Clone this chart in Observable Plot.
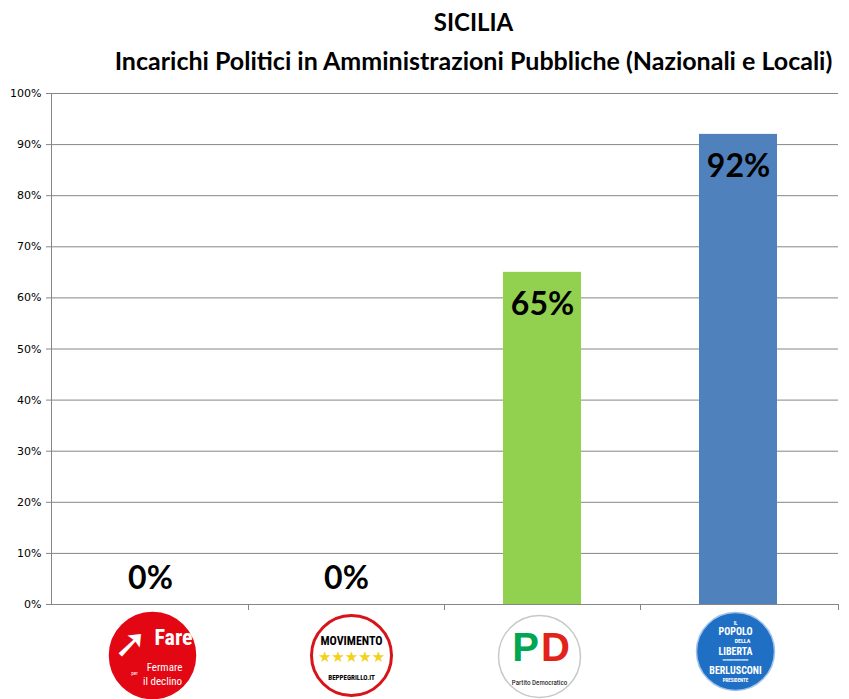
<!DOCTYPE html>
<html>
<head>
<meta charset="utf-8">
<script src="https://cdn.jsdelivr.net/npm/d3@7"></script>
<script src="https://cdn.jsdelivr.net/npm/@observablehq/plot@0.6"></script>
<style>
  html, body { margin: 0; padding: 0; background: #fff; }
  #wrap { width: 849px; }
  .title { font-family: Lato, "Open Sans", sans-serif; font-weight: bold; color: #000; text-align: center; padding-left: 98px; box-sizing: border-box; width: 849px; white-space: nowrap; }
  #t1 { font-size: 24px; height: 44px; line-height: 44px; }
  #t2 { font-size: 25px; height: 32px; line-height: 32px; }
</style>
</head>
<body>
<div id="wrap">
  <div class="title" id="t1">SICILIA</div>
  <div class="title" id="t2">Incarichi Politici in Amministrazioni Pubbliche (Nazionali e Locali)</div>
  <div id="chart"></div>
</div>
<script>
const parties = ["Fare per Fermare il declino", "MoVimento 5 Stelle", "Partito Democratico", "Il Popolo della Libertà"];
const values = [0, 0, 0.65, 0.92];
const barColors = ["#E30613", "#D7141A", "#92D050", "#4F81BD"];
const yTicks = [0, 0.1, 0.2, 0.3, 0.4, 0.5, 0.6, 0.7, 0.8, 0.9, 1.0];

const data = parties.map((p, i) => ({party: p, value: values[i], color: barColors[i]}));
const fmt = d3.format(".0%");

function frameLines(index, scales, values, dims) {
  const x = scales.x;
  const g = d3.create("svg:g").attr("stroke", "#868686").attr("stroke-width", 1);
  const left = dims.marginLeft, right = dims.width - dims.marginRight;
  const top = dims.marginTop, bottom = dims.height - dims.marginBottom;
  g.append("line").attr("x1", left + 0.5).attr("x2", left + 0.5).attr("y1", top).attr("y2", bottom + 0.5);
  g.append("line").attr("x1", left).attr("x2", right).attr("y1", bottom + 0.5).attr("y2", bottom + 0.5);
  const bw = x.bandwidth ? x.bandwidth() : 0;
  const centers = parties.map(p => x(p) + bw / 2);
  const bounds = [];
  for (let i = 1; i < centers.length; i++) bounds.push((centers[i - 1] + centers[i]) / 2);
  bounds.push(right);
  for (const b of bounds) {
    g.append("line").attr("x1", Math.round(b) + 0.5).attr("x2", Math.round(b) + 0.5).attr("y1", bottom).attr("y2", bottom + 6);
  }
  return g.node();
}

function logoText(i, text, dy, opts = {}) {
  return Plot.text([parties[i]], {
    x: d => d, frameAnchor: "bottom", dy, dx: opts.dx ?? 0,
    text: () => text,
    fill: opts.fill ?? "#000",
    fontSize: opts.size ?? 10,
    fontWeight: opts.weight ?? "bold",
    fontFamily: opts.family ?? "'Liberation Sans Narrow', 'Roboto Condensed', Roboto, sans-serif",
    lineAnchor: "middle",
    textAnchor: opts.anchor ?? "middle"
  });
}

const chart = Plot.plot({
  width: 849,
  height: 623,
  marginTop: 17,
  marginBottom: 95,
  marginLeft: 51,
  marginRight: 11,
  style: {fontFamily: "DejaVu Sans, sans-serif", fontSize: "11px", color: "#000", background: "#fff"},
  x: {domain: parties, paddingInner: 0.6, paddingOuter: 0.3, axis: null},
  y: {domain: [0, 1], axis: null},
  marks: [
    Plot.gridY(yTicks, {stroke: "#868686", strokeOpacity: 1}),
    Plot.axisY(yTicks, {tickFormat: fmt, tickSize: 5, tickPadding: 5, stroke: "#868686", fill: "#000", fontSize: 11, label: null}),
    Plot.barY(data, {x: "party", y: "value", fill: "color"}),
    Plot.text(data.filter(d => d.value > 0), {x: "party", y: "value", text: d => fmt(d.value), dy: 32, fontSize: 32, fontWeight: "bold", fontFamily: "Lato, sans-serif", fill: "#000", lineAnchor: "middle"}),
    Plot.text(data.filter(d => d.value === 0), {x: "party", y: "value", text: d => fmt(d.value), dy: -26, fontSize: 32, fontWeight: "bold", fontFamily: "Lato, sans-serif", fill: "#000", lineAnchor: "middle"}),
    frameLines,
    // Logos
    Plot.dot([parties[0]], {x: d => d, frameAnchor: "bottom", dy: 51, dx: 2, r: 43, fill: "#E30613", stroke: "#E30613"}),
    logoText(0, "➚", 40, {fill: "#fff", size: 40, dx: -20, family: "DejaVu Sans, sans-serif"}),
    logoText(0, "Fare", 33, {fill: "#fff", size: 22, dx: 23}),
    logoText(0, "per", 69, {fill: "#fff", size: 5, dx: -16, weight: "normal"}),
    logoText(0, "Fermare", 63, {fill: "#fff", size: 11, dx: 14, weight: "normal"}),
    logoText(0, "il declino", 77, {fill: "#fff", size: 11, dx: 12, weight: "normal"}),

    Plot.dot([parties[1]], {x: d => d, frameAnchor: "bottom", dy: 51, dx: 5, r: 40, fill: "#fff", stroke: "#D7141A", strokeWidth: 3}),
    logoText(1, "MOVIMENTO", 37, {size: 12, dx: 5}),
    logoText(1, "★★★★★", 53, {fill: "#F2D21A", size: 15, dx: 5, family: "DejaVu Sans, sans-serif", weight: "normal"}),
    logoText(1, "BEPPEGRILLO.IT", 73, {size: 7, dx: 5}),

    Plot.dot([parties[2]], {x: d => d, frameAnchor: "bottom", dy: 52, dx: -3, r: 41, fill: "#fff", stroke: "#c8c8c8", strokeWidth: 1.5}),
    logoText(2, "P", 44, {fill: "#00A651", size: 40, dx: -17, family: "Liberation Sans, sans-serif"}),
    logoText(2, "D", 44, {fill: "#E2231A", size: 40, dx: 13, family: "Liberation Sans, sans-serif"}),
    logoText(2, "Partito Democratico", 78, {size: 7, dx: -3, weight: "normal"}),

    Plot.dot([parties[3]], {x: d => d, frameAnchor: "bottom", dy: 47, dx: -3, r: 39, fill: "#1F6FC5", stroke: "#9fc3e8", strokeWidth: 1.5}),
    logoText(3, "IL", 19, {fill: "#fff", size: 5, dx: -3}),
    logoText(3, "POPOLO", 27, {fill: "#fff", size: 10, dx: -3}),
    logoText(3, "DELLA", 37, {fill: "#fff", size: 6, dx: 4}),
    logoText(3, "LIBERTA", 47, {fill: "#fff", size: 10, dx: -3}),
    logoText(3, "━━━━━━━", 56, {fill: "#fff", size: 6, dx: -3, family: "DejaVu Sans, sans-serif"}),
    logoText(3, "BERLUSCONI", 66, {fill: "#fff", size: 10, dx: -3}),
    logoText(3, "PRESIDENTE", 76, {fill: "#fff", size: 5, dx: -3})
  ]
});
document.getElementById("chart").appendChild(chart);
</script>
</body>
</html>
